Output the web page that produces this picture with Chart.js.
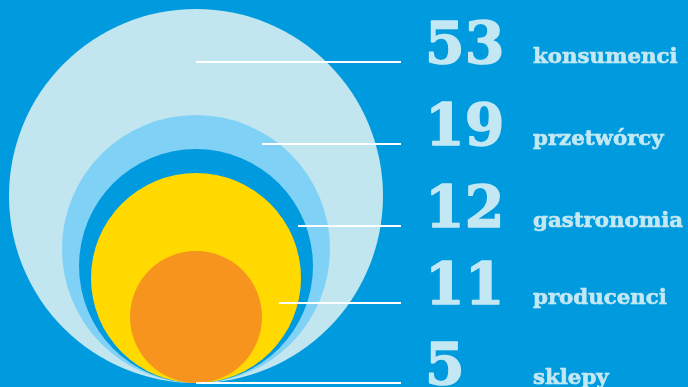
<!DOCTYPE html>
<html>
<head>
<meta charset="utf-8">
<script src="https://cdn.jsdelivr.net/npm/chart.js@4"></script>
<style>
  html, body { margin: 0; padding: 0; background: #009bde; }
  #wrap { width: 688px; height: 387px; position: relative; }
</style>
</head>
<body>
<div id="wrap"><canvas id="circles"></canvas></div>
<script>
// data
const categories = ['konsumenci', 'przetwórcy', 'gastronomia', 'producenci', 'sklepy'];
const values = [53, 19, 12, 11, 5];
// bubble radius (px) of each nested circle, all touching at the bottom point
const bubbleSize = [187, 134, 117, 105, 66];
const bubbleColors = ['#c1e6f0', '#80d1f6', '#009bde', '#ffd900', '#f7941e'];

// rows of the legend on the right (in chart units, 0 = touching point)
const rowLevel = [321, 239, 157, 80, 0];
const leaderFrom = [0, 66, 102, 83, 0];
const leaderTo = 205;
const numberX = 229;
const labelX = 337;

const textColor = '#c3e8f3';

const leaderPlugin = {
  id: 'leaders',
  afterDatasetsDraw(chart) {
    const ctx = chart.ctx;
    const xs = chart.scales.x, ys = chart.scales.y;
    ctx.save();
    categories.forEach((cat, i) => {
      const y = Math.round(ys.getPixelForValue(rowLevel[i]));
      ctx.strokeStyle = '#ffffff';
      ctx.lineWidth = 2;
      ctx.beginPath();
      ctx.moveTo(xs.getPixelForValue(leaderFrom[i]), y);
      ctx.lineTo(xs.getPixelForValue(leaderTo), y);
      ctx.stroke();

      ctx.fillStyle = textColor;
      ctx.strokeStyle = textColor;
      ctx.textBaseline = 'alphabetic';
      ctx.textAlign = 'left';
      ctx.lineJoin = 'round';
      // big numbers, a bit heavier than DejaVu bold
      ctx.font = 'bold 57px "DejaVu Serif"';
      ctx.lineWidth = 1.5;
      ctx.fillText(String(values[i]), xs.getPixelForValue(numberX), y + 1);
      ctx.strokeText(String(values[i]), xs.getPixelForValue(numberX), y + 1);
      ctx.font = 'bold 21.3px "DejaVu Serif"';
      ctx.lineWidth = 0.6;
      ctx.fillText(cat, xs.getPixelForValue(labelX), y + 1);
      ctx.strokeText(cat, xs.getPixelForValue(labelX), y + 1);
    });
    ctx.restore();
  }
};

new Chart(document.getElementById('circles'), {
  type: 'bubble',
  data: {
    datasets: [{
      data: values.map((v, i) => ({ x: 0, y: bubbleSize[i], r: bubbleSize[i], v: v })),
      backgroundColor: bubbleColors,
      borderWidth: 0,
      hoverRadius: 0,
      clip: false
    }]
  },
  options: {
    responsive: true,
    maintainAspectRatio: false,
    animation: false,
    layout: { padding: 0, autoPadding: false },
    plugins: { legend: { display: false }, tooltip: { enabled: false } },
    scales: {
      x: { type: 'linear', min: -196, max: 492, display: false },
      y: { type: 'linear', min: -4, max: 383, display: false }
    }
  },
  plugins: [leaderPlugin]
});
</script>
</body>
</html>
